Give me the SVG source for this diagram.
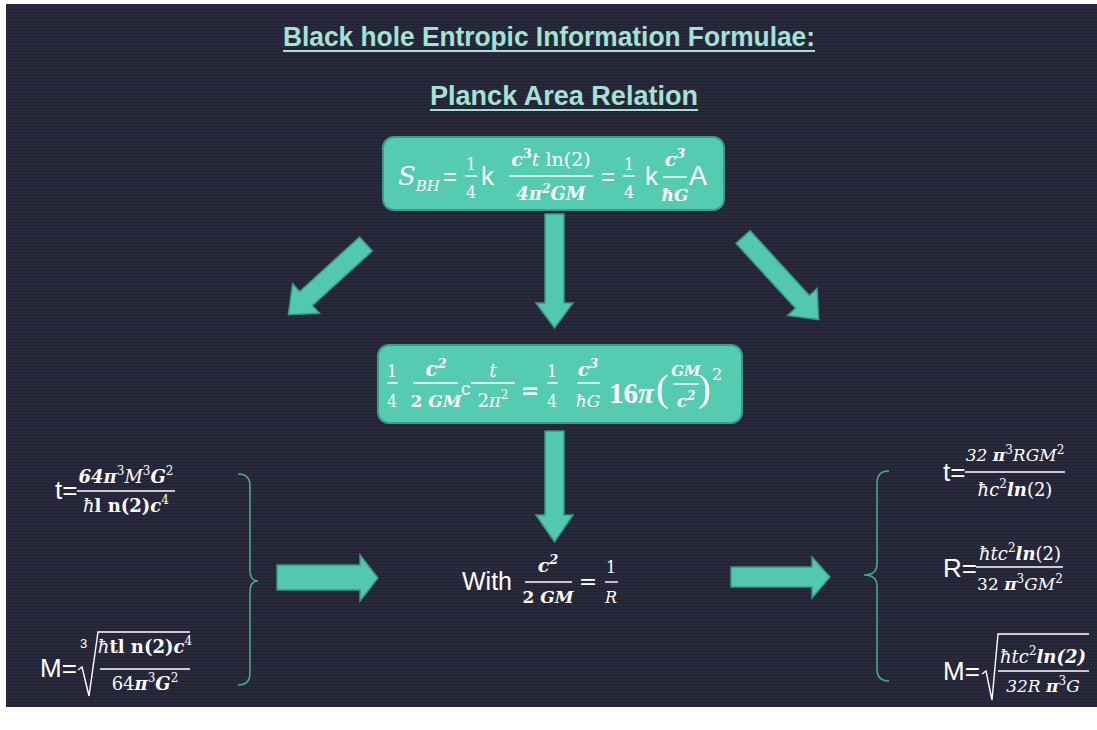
<svg xmlns="http://www.w3.org/2000/svg" width="1097" height="730" viewBox="0 0 1097 730">
<defs>
<pattern id="stripes" width="4" height="3" patternUnits="userSpaceOnUse">
<rect width="4" height="3" fill="#29293d"/>
<rect width="4" height="1" fill="#222234"/>
</pattern>
</defs>
<style>
.w{fill:#ffffff}
.m{font-family:"DejaVu Serif",serif;fill:#ffffff}
.i{font-style:italic}
.b{font-weight:bold}
.s{font-family:"Liberation Sans",Arial,sans-serif;fill:#ffffff}
.bar{stroke:#ffffff;stroke-width:1.4}
.rad{stroke:#ffffff;stroke-width:1.4;fill:none}
.box{fill:#55ccb2;stroke:#3c9c88;stroke-width:2}
.arrow{fill:#52c9ae;stroke:#3a9683;stroke-width:1.5}
.brace{fill:none;stroke:#4aa596;stroke-width:1.6}
.title{font-family:"Liberation Sans",Arial,sans-serif;font-weight:bold;fill:#a3e2d4}
.ul{stroke:#a3e2d4;stroke-width:2}
</style>
<rect x="0" y="0" width="1097" height="730" fill="#ffffff"/>
<rect x="6" y="4" width="1091" height="703" fill="url(#stripes)"/>

<g id="title">
<text class="title" x="283" y="46" font-size="27" textLength="532" lengthAdjust="spacingAndGlyphs">Black hole Entropic Information Formulae:</text>
<line class="ul" x1="283" y1="51" x2="815" y2="51"/>
<text class="title" x="430" y="105" font-size="27" textLength="268" lengthAdjust="spacingAndGlyphs">Planck Area Relation</text>
<line class="ul" x1="430" y1="110" x2="698" y2="110"/>
</g>

<g id="connectors">
<polygon class="arrow" points="545,214 564,214 564,303 573,303 554.5,328 536,303 545,303"/>
<polygon class="arrow" points="0,-9.5 81,-9.5 81,-20 105,0 81,20 81,9.5 0,9.5" transform="translate(366,244) rotate(137.7)"/>
<polygon class="arrow" points="0,-9.5 88,-9.5 88,-20 112,0 88,20 88,9.5 0,9.5" transform="translate(743,237) rotate(47.5)"/>
<polygon class="arrow" points="545,431 564,431 564,515 573,515 554.5,542 536,515 545,515"/>
<polygon class="arrow" points="277,565 360,565 360,555 378,578 360,601 360,590 277,590"/>
<polygon class="arrow" points="731,567 812,567 812,557 830,577 812,598 812,587 731,587"/>
<path class="brace" d="M238,474 Q250,474 250,486 L250,570 Q250,581 258,581 Q250,581 250,592 L250,673 Q250,685 238,685"/>
<path class="brace" d="M889,471 Q877,471 877,483 L877,564 Q877,575 864,575 Q877,575 877,586 L877,669 Q877,681 889,681"/>
</g>

<g id="box-top">
<rect class="box" x="383" y="137" width="341" height="73" rx="11"/>
<text class="m i" x="398" y="185" font-size="26">S<tspan font-size="15" dy="6">BH</tspan></text>
<text class="s" x="450" y="185" font-size="24" text-anchor="middle">=</text>
<text class="m" x="471" y="170" font-size="16" text-anchor="middle">1</text>
<line class="bar" x1="465" y1="176" x2="477" y2="176"/>
<text class="m" x="471" y="198" font-size="16" text-anchor="middle">4</text>
<text class="s" x="481" y="185" font-size="26">k</text>
<text class="m" x="551" y="166" font-size="19" text-anchor="middle"><tspan class="b i">c</tspan><tspan class="b" font-size="13" dy="-8">3</tspan><tspan class="i" dy="8">t</tspan> ln(2)</text>
<line class="bar" x1="509" y1="176" x2="593" y2="176"/>
<text class="m b i" x="551" y="200" font-size="18" text-anchor="middle">4π<tspan font-size="12" dy="-7">2</tspan><tspan dy="7">GM</tspan></text>
<text class="s" x="608" y="185" font-size="24" text-anchor="middle">=</text>
<text class="m" x="629" y="170" font-size="16" text-anchor="middle">1</text>
<line class="bar" x1="623" y1="176" x2="635" y2="176"/>
<text class="m" x="629" y="198" font-size="16" text-anchor="middle">4</text>
<text class="s" x="645" y="185" font-size="26">k</text>
<text class="m b i" x="675" y="166" font-size="19" text-anchor="middle">c<tspan font-size="13" dy="-8">3</tspan></text>
<line class="bar" x1="663" y1="177" x2="687" y2="177"/>
<text class="m b i" x="675" y="201" font-size="17" text-anchor="middle">ħG</text>
<text class="s" x="689" y="185" font-size="27">A</text>
</g>

<g id="box-mid">
<rect class="box" x="378" y="345" width="364" height="78" rx="11"/>
<text class="m" x="392" y="377" font-size="16" text-anchor="middle">1</text>
<line class="bar" x1="387" y1="383" x2="398" y2="383"/>
<text class="m" x="392" y="407" font-size="16" text-anchor="middle">4</text>
<text class="m b i" x="436" y="376" font-size="20" text-anchor="middle">c<tspan font-size="13" dy="-8">2</tspan></text>
<line class="bar" x1="413" y1="383" x2="458" y2="383"/>
<text class="m b" x="436" y="407" font-size="17" text-anchor="middle">2 <tspan class="i">GM</tspan></text>
<text class="s" x="461" y="395" font-size="19">c</text>
<text class="m i" x="493" y="377" font-size="19" text-anchor="middle">t</text>
<line class="bar" x1="471" y1="383" x2="515" y2="383"/>
<text class="m" x="493" y="407" font-size="18" text-anchor="middle">2<tspan class="i">π</tspan><tspan font-size="12" dy="-8">2</tspan></text>
<text class="m b" x="530" y="398" font-size="22" text-anchor="middle">=</text>
<text class="m" x="552" y="377" font-size="16" text-anchor="middle">1</text>
<line class="bar" x1="547" y1="383" x2="558" y2="383"/>
<text class="m" x="552" y="407" font-size="16" text-anchor="middle">4</text>
<text class="m b i" x="588" y="376" font-size="19" text-anchor="middle">c<tspan font-size="13" dy="-8">3</tspan></text>
<line class="bar" x1="577" y1="383" x2="600" y2="383"/>
<text class="m i" x="588" y="407" font-size="17" text-anchor="middle">ħG</text>
<text x="609" y="403" font-size="29" font-family="Liberation Serif,serif" font-weight="bold" fill="#ffffff">16<tspan font-style="italic">π</tspan></text>
<text x="656" y="401" font-size="38" font-family="Liberation Serif,serif" fill="#ffffff">(</text>
<text class="m b i" x="686" y="376" font-size="15" text-anchor="middle">GM</text>
<line class="bar" x1="673" y1="384" x2="699" y2="384"/>
<text class="m b i" x="686" y="407" font-size="17" text-anchor="middle">c<tspan font-size="12" dy="-7">2</tspan></text>
<text x="698" y="401" font-size="38" font-family="Liberation Serif,serif" fill="#ffffff">)</text>
<text class="m" x="712" y="380" font-size="16">2</text>
</g>

<g id="relation">
<text class="s" x="462" y="590" font-size="25">With</text>
<text class="m b i" x="548" y="572" font-size="19" text-anchor="middle">c<tspan font-size="13" dy="-8">2</tspan></text>
<line class="bar" x1="525" y1="582" x2="572" y2="582"/>
<text class="m b" x="548" y="603" font-size="17" text-anchor="middle">2 <tspan class="i">GM</tspan></text>
<text class="m" x="588" y="589" font-size="22" text-anchor="middle">=</text>
<text class="m" x="611" y="573" font-size="16" text-anchor="middle">1</text>
<line class="bar" x1="605" y1="582" x2="618" y2="582"/>
<text class="m i" x="611" y="603" font-size="16" text-anchor="middle">R</text>
</g>

<g id="left-formulas">
<g id="left-t">
<text class="s" x="55" y="499" font-size="26">t=</text>
<text class="m" x="126" y="483" font-size="18" text-anchor="middle"><tspan class="b i">64π</tspan><tspan font-size="12" dy="-8">3</tspan><tspan class="i" dy="8">M</tspan><tspan font-size="12" dy="-8">3</tspan><tspan class="b i" dy="8">G</tspan><tspan font-size="12" dy="-8">2</tspan></text>
<line class="bar" x1="77" y1="491" x2="175" y2="491"/>
<text class="m" x="126" y="512" font-size="18" text-anchor="middle"><tspan class="i">ħ</tspan><tspan class="b">l n(2)</tspan><tspan class="b i">c</tspan><tspan font-size="12" dy="-8">4</tspan></text>
</g>
<g id="left-M">
<text class="s" x="40" y="677" font-size="26">M=</text>
<text class="s" x="80" y="648" font-size="13">3</text>
<path class="rad" d="M78,670 L82,667 L89,696 L98,632 L190,632"/>
<text class="m" x="145" y="653" font-size="18" text-anchor="middle"><tspan class="i">ħ</tspan><tspan class="b">tl n(2)</tspan><tspan class="b i">c</tspan><tspan font-size="12" dy="-8">4</tspan></text>
<line class="bar" x1="100" y1="669" x2="190" y2="669"/>
<text class="m" x="145" y="690" font-size="18" text-anchor="middle">64<tspan class="b i">π</tspan><tspan font-size="12" dy="-8">3</tspan><tspan class="b i" dy="8">G</tspan><tspan font-size="12" dy="-8">2</tspan></text>
</g>
</g>

<g id="right-formulas">
<g id="right-t">
<text class="s" x="943" y="481" font-size="26">t=</text>
<text class="m" x="1015" y="461" font-size="17" text-anchor="middle"><tspan class="i">32 </tspan><tspan class="b i">π</tspan><tspan font-size="12" dy="-7">3</tspan><tspan class="i" dy="7">RGM</tspan><tspan font-size="12" dy="-7">2</tspan></text>
<line class="bar" x1="965" y1="472" x2="1065" y2="472"/>
<text class="m" x="1015" y="496" font-size="18" text-anchor="middle"><tspan class="i">ħc</tspan><tspan font-size="12" dy="-8">2</tspan><tspan class="b i" dy="8">ln</tspan>(2)</text>
</g>
<g id="right-R">
<text class="s" x="943" y="577" font-size="26">R=</text>
<text class="m" x="1020" y="560" font-size="18" text-anchor="middle"><tspan class="i">ħtc</tspan><tspan font-size="12" dy="-8">2</tspan><tspan class="b i" dy="8">ln</tspan>(2)</text>
<line class="bar" x1="976" y1="567" x2="1063" y2="567"/>
<text class="m" x="1020" y="590" font-size="17" text-anchor="middle">32 <tspan class="b i">π</tspan><tspan font-size="12" dy="-7">3</tspan><tspan class="i" dy="7">GM</tspan><tspan font-size="12" dy="-7">2</tspan></text>
</g>
<g id="right-M">
<text class="s" x="943" y="680" font-size="26">M=</text>
<path class="rad" d="M982,674 L986,671 L992,700 L998,634 L1089,634"/>
<text class="m" x="1043" y="663" font-size="18" text-anchor="middle"><tspan class="i">ħtc</tspan><tspan font-size="12" dy="-8">2</tspan><tspan class="b i" dy="8">ln(2)</tspan></text>
<line class="bar" x1="998" y1="671" x2="1089" y2="671"/>
<text class="m" x="1043" y="692" font-size="17" text-anchor="middle"><tspan class="i">32R </tspan><tspan class="b i">π</tspan><tspan font-size="12" dy="-7">3</tspan><tspan class="i" dy="7">G</tspan></text>
</g>
</g>
</svg>
